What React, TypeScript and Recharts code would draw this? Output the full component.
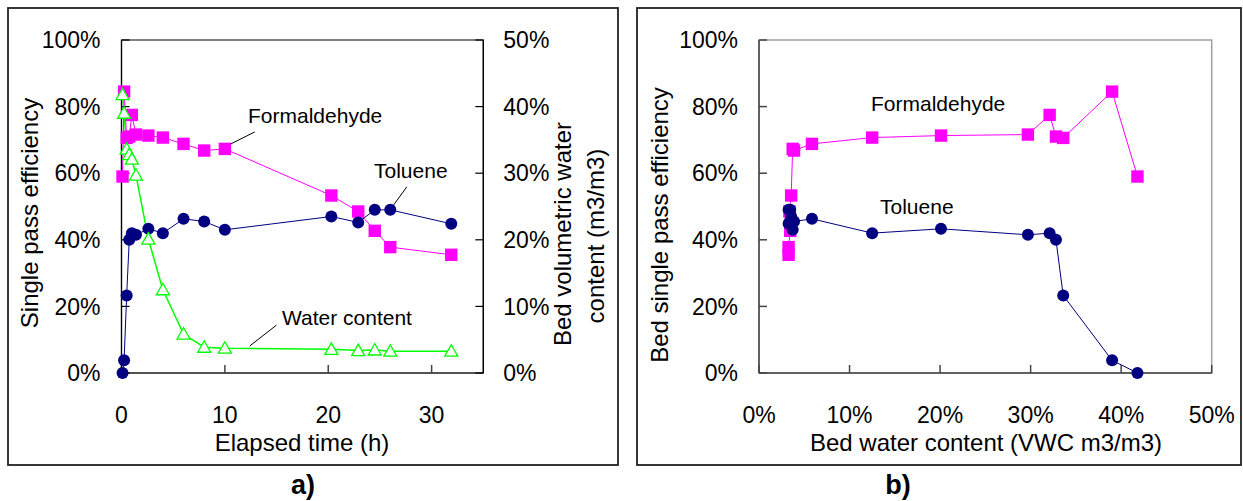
import { LineChart, Line, XAxis, YAxis, ReferenceArea, ReferenceLine } from "recharts";

// sampling times (h) and the measured values at each time
const elapsedHours = [0.1, 0.25, 0.5, 0.75, 1.0, 1.4, 2.6, 4.0, 6.0, 8.0, 10.0, 20.3, 22.9, 24.5, 26.0, 31.9];
const formaldehydeEff = [59, 84.5, 70.6, 71.0, 77.5, 71.6, 71.3, 70.7, 68.8, 66.8, 67.3, 53.3, 48.5, 42.7, 37.8, 35.5];
const tolueneEff = [0, 3.8, 23.3, 40.0, 42.0, 41.5, 43.3, 42.0, 46.3, 45.5, 43.0, 47.0, 45.2, 49.0, 49.0, 44.8];
const waterContent = [41.8, 39.0, 33.6, 32.8, 32.1, 29.7, 20.1, 12.5, 5.85, 3.87, 3.72, 3.55, 3.36, 3.45, 3.27, 3.27];

const timeTicks = [0, 10, 20, 30];
const effTicks = [0, 20, 40, 60, 80, 100];
const wcTicks = [0, 10, 20, 30, 40, 50];

const data = elapsedHours.map((t, i) => ({
  t,
  wc: waterContent[i],
  form: formaldehydeEff[i],
  tol: tolueneEff[i],
}));

const FONT = "'Liberation Sans', Arial, sans-serif";
const MAGENTA = "#FF00FF";
const NAVY = "#000080";
const GREEN = "#00FF00";

const pct = (v: number) => `${v}%`;
const tickStyle = { fontSize: 23, fill: "#000", fontFamily: FONT };

const Square = (p: any) => (
  <rect key={`s${p.index}`} x={p.cx - 6.2} y={p.cy - 6.2} width={12.4} height={12.4} fill={MAGENTA} />
);
const Circle = (p: any) => (
  <circle key={`c${p.index}`} cx={p.cx} cy={p.cy} r={6} fill={NAVY} />
);
const Triangle = (p: any) => (
  <polygon
    key={`t${p.index}`}
    points={`${p.cx},${p.cy - 6.5} ${p.cx + 6.5},${p.cy + 5} ${p.cx - 6.5},${p.cy + 5}`}
    fill="#fff"
    stroke={GREEN}
    strokeWidth={1.3}
  />
);

function TimeChart() {
  return (
    <LineChart width={620} height={501} data={data} margin={{ top: 40, right: 56.7, left: 41.5, bottom: 68 }}>
      <ReferenceArea yAxisId="left" x1={0} x2={35} y1={0} y2={100} fill="none" stroke="#000" strokeWidth={1.2} />
      <XAxis
        type="number" dataKey="t" domain={[0, 35]} ticks={timeTicks} height={60}
        tick={tickStyle} tickSize={-8} tickMargin={42} stroke="#444" strokeWidth={1.5}
      />
      <YAxis
        yAxisId="left" domain={[0, 100]} ticks={effTicks} width={80} tickFormatter={pct}
        tick={tickStyle} tickSize={-8} tickMargin={29} stroke="#000" strokeWidth={1.2}
      />
      <YAxis
        yAxisId="right" orientation="right" domain={[0, 50]} ticks={wcTicks} width={80} tickFormatter={pct}
        tick={tickStyle} tickSize={-8} tickMargin={28} stroke="#000" strokeWidth={1.2}
      />
      <ReferenceLine yAxisId="left" segment={[{ x: 10.0, y: 67.9 }, { x: 12.9, y: 72.4 }]} stroke="#000" />
      <ReferenceLine yAxisId="left" segment={[{ x: 26.1, y: 49.5 }, { x: 27.6, y: 55.9 }]} stroke="#000" />
      <ReferenceLine yAxisId="left" segment={[{ x: 12.4, y: 8.1 }, { x: 15.0, y: 14.4 }]} stroke="#000" />
      <Line yAxisId="left" dataKey="form" stroke={MAGENTA} strokeWidth={1} dot={Square} activeDot={false} isAnimationActive={false} />
      <Line yAxisId="left" dataKey="tol" stroke={NAVY} strokeWidth={1} dot={Circle} activeDot={false} isAnimationActive={false} />
      <Line yAxisId="right" dataKey="wc" stroke={GREEN} strokeWidth={1.5} dot={Triangle} activeDot={false} isAnimationActive={false} />
    </LineChart>
  );
}

function WaterChart() {
  return (
    <LineChart width={623} height={501} data={data} margin={{ top: 40, right: 31.3, left: 59, bottom: 68 }}>
      <ReferenceArea x1={0} x2={50} y1={0} y2={100} fill="none" stroke="#a0a0a0" strokeWidth={1.5} />
      <XAxis
        type="number" dataKey="wc" domain={[0, 50]} ticks={wcTicks} height={60} tickFormatter={pct}
        tick={tickStyle} tickSize={-8} tickMargin={42} stroke="#444" strokeWidth={1.5}
      />
      <YAxis
        domain={[0, 100]} ticks={effTicks} width={80} tickFormatter={pct}
        tick={tickStyle} tickSize={-8} tickMargin={29} stroke="#444" strokeWidth={1.5}
      />
      <Line dataKey="form" stroke={MAGENTA} strokeWidth={1} dot={Square} activeDot={false} isAnimationActive={false} />
      <Line dataKey="tol" stroke={NAVY} strokeWidth={1} dot={Circle} activeDot={false} isAnimationActive={false} />
    </LineChart>
  );
}

export default function App() {
  const title = { fontSize: 24, fontFamily: FONT, fill: "#000" };
  const note = { fontSize: 21, fontFamily: FONT, fill: "#000" };
  const tag = { fontSize: 27, fontWeight: 700, fontFamily: "'Liberation Sans Narrow', " + FONT, fill: "#000" };

  return (
    <div style={{ position: "relative", width: 1243, height: 501, background: "#fff" }}>
      <style>{"body{margin:0}"}</style>
      <div style={{ position: "absolute", left: 0, top: 0 }}>
        <TimeChart />
      </div>
      <div style={{ position: "absolute", left: 620, top: 0 }}>
        <WaterChart />
      </div>
      <svg width={1243} height={501} style={{ position: "absolute", left: 0, top: 0, pointerEvents: "none" }}>
        <rect x={8} y={8} width={610} height={457} fill="none" stroke="#222" strokeWidth={1.8} />
        <rect x={637} y={8} width={604} height={457} fill="none" stroke="#222" strokeWidth={1.8} />

        <text x={38} y={213} textAnchor="middle" transform="rotate(-90 38 213)" style={title}>Single pass efficiency</text>
        <text x={571} y={234} textAnchor="middle" transform="rotate(-90 571 234)" style={title}>Bed volumetric water</text>
        <text x={604} y={236} textAnchor="middle" transform="rotate(-90 604 236)" style={title}>content (m3/m3)</text>
        <text x={302} y={451} textAnchor="middle" style={title}>Elapsed time (h)</text>

        <text x={668} y={225} textAnchor="middle" transform="rotate(-90 668 225)" style={title}>Bed single pass efficiency</text>
        <text x={986} y={451} textAnchor="middle" style={title}>Bed water content (VWC m3/m3)</text>

        <text x={248} y={123} style={note}>Formaldehyde</text>
        <text x={374} y={178} style={note}>Toluene</text>
        <text x={282} y={325} style={note}>Water content</text>
        <text x={871} y={111} style={note}>Formaldehyde</text>
        <text x={880} y={214} style={note}>Toluene</text>

        <text x={303} y={494} textAnchor="middle" style={tag}>a)</text>
        <text x={898} y={494} textAnchor="middle" style={tag}>b)</text>
      </svg>
    </div>
  );
}
